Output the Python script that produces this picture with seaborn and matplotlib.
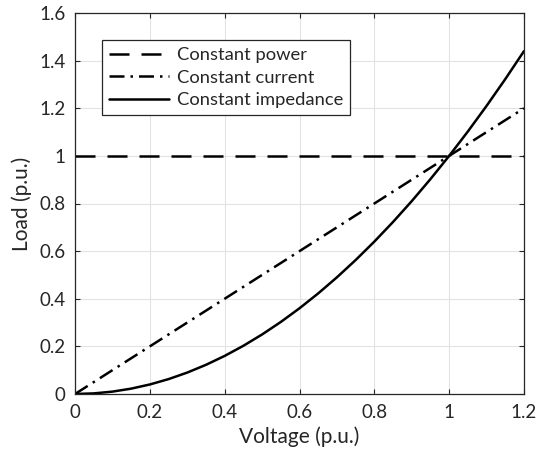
import numpy as np
import pandas as pd
import matplotlib
matplotlib.use("Agg")
import matplotlib.pyplot as plt
import seaborn as sns

# Data
voltage = [0.0, 0.05, 0.1, 0.15, 0.2, 0.25, 0.3, 0.35, 0.4, 0.45, 0.5, 0.55, 0.6,
           0.65, 0.7, 0.75, 0.8, 0.85, 0.9, 0.95, 1.0, 1.05, 1.1, 1.15, 1.2]
const_power = [1.0] * 25
const_current = [0.0, 0.05, 0.1, 0.15, 0.2, 0.25, 0.3, 0.35, 0.4, 0.45, 0.5, 0.55, 0.6,
                 0.65, 0.7, 0.75, 0.8, 0.85, 0.9, 0.95, 1.0, 1.05, 1.1, 1.15, 1.2]
const_impedance = [0.0, 0.0025, 0.01, 0.0225, 0.04, 0.0625, 0.09, 0.1225, 0.16, 0.2025,
                   0.25, 0.3025, 0.36, 0.4225, 0.49, 0.5625, 0.64, 0.7225, 0.81, 0.9025,
                   1.0, 1.1025, 1.21, 1.3225, 1.44]
labels = ["Constant power", "Constant current", "Constant impedance"]
xticks = [0, 0.2, 0.4, 0.6, 0.8, 1, 1.2]
yticks = [0, 0.2, 0.4, 0.6, 0.8, 1, 1.2, 1.4, 1.6]
xtick_labels = ["0", "0.2", "0.4", "0.6", "0.8", "1", "1.2"]
ytick_labels = ["0", "0.2", "0.4", "0.6", "0.8", "1", "1.2", "1.4", "1.6"]

sns.set_theme(style="white")
plt.rcParams['font.family'] = ['Lato', 'DejaVu Sans']

fig = plt.figure(figsize=(5.39, 4.63), dpi=100)
ax = fig.add_axes([75/539, 1-394/463, (524-75)/539, (394-13)/463])

df = pd.DataFrame({"V": voltage, "P": const_power, "I": const_current, "Z": const_impedance})
styles = [(0, (8, 4.8)), (0, (6, 2.4, 1, 2.4)), '-']
for col, lab, ls in zip(["P", "I", "Z"], labels, styles):
    sns.lineplot(data=df, x="V", y=col, ax=ax, color="black", linewidth=1.8,
                 linestyle=ls, label=lab)

ax.set_xlim(0, 1.2)
ax.set_ylim(0, 1.6)
ax.set_xticks(xticks)
ax.set_xticklabels(xtick_labels)
ax.set_yticks(yticks)
ax.set_yticklabels(ytick_labels)
ax.grid(True, color="#e3e3e3", linewidth=0.8)
ax.set_axisbelow(True)
for s in ax.spines.values():
    s.set_color("#262626")
    s.set_linewidth(0.9)
ax.tick_params(direction="in", length=3.6, width=0.8, colors="#262626",
               labelsize=13.5, labelcolor="#262626", top=True, right=True,
               bottom=True, left=True, pad=7)
ax.set_xlabel("Voltage (p.u.)", fontsize=15, color="#262626", labelpad=4)
ax.set_ylabel("Load (p.u.)", fontsize=15, color="#262626", labelpad=5)

leg = ax.legend(loc="upper left", bbox_to_anchor=(27/449, 1-27/381), fontsize=13.2,
                frameon=True, fancybox=False, framealpha=1, edgecolor="#262626",
                handlelength=3.3, handletextpad=0.4, borderpad=0.38, labelspacing=0.36,
                borderaxespad=0)
leg.get_frame().set_linewidth(0.9)

fig.savefig("out.png", dpi=100)
